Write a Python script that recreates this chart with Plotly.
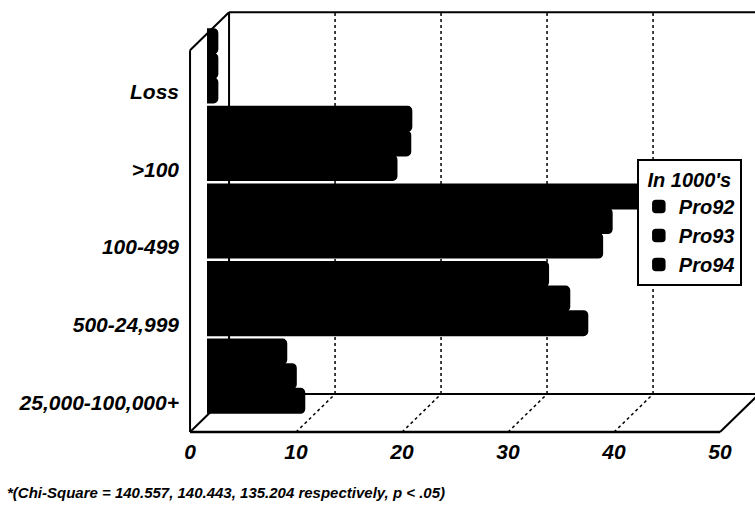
import plotly.graph_objects as go

# Income bands, listed bottom to top on the category axis
categories = ["25,000-100,000+", "500-24,999", "100-499", ">100", "Loss"]

pro92 = [9.2, 35.9, 37.3, 17.9, 1.0]
pro93 = [8.4, 34.2, 38.2, 19.2, 1.0]
pro94 = [7.5, 32.2, 41.3, 19.3, 1.0]

series_names = ["Pro92", "Pro93", "Pro94"]
x_ticks = [0, 10, 20, 30, 40, 50]

W, H = 755, 510
M = dict(l=207, r=18, t=27, b=95)
X_MAX = 50
FONT = dict(family="Liberation Sans, Arial, sans-serif", color="black",
            weight="bold", style="italic")

# Pseudo-3D box: front and back planes offset from the bar plane (axis units)
FRONT_DX, BACK_DX = -1.6, 2.08
FLOOR_FRONT, FLOOR_BACK = -0.72, -0.23
TOP_BACK, TOP_FRONT = 4.69, 4.2


def px(v):
    return v / X_MAX


def py(c):
    return (c + 0.5) / len(categories)


def seg(x0, y0, x1, y1, dash="solid", width=2):
    return dict(type="line", xref="paper", yref="paper",
                x0=px(x0), y0=py(y0), x1=px(x1), y1=py(y1),
                line=dict(color="black", width=width, dash=dash),
                layer="below")


fig = go.Figure()
for name, vals in zip(series_names, [pro92, pro93, pro94]):
    fig.add_trace(go.Bar(
        name=name, y=categories, x=vals, orientation="h",
        marker=dict(color="black", line=dict(color="black", width=1.5)),
        legendgroup=name,
    ))

shapes = [
    seg(BACK_DX, FLOOR_BACK, BACK_DX, TOP_BACK),
    seg(BACK_DX, TOP_BACK, X_MAX + BACK_DX + 2, TOP_BACK),
    seg(FRONT_DX, TOP_FRONT, BACK_DX, TOP_BACK),
    seg(FRONT_DX, FLOOR_FRONT, FRONT_DX, TOP_FRONT),
    seg(FRONT_DX, FLOOR_FRONT, BACK_DX, FLOOR_BACK),
    seg(FRONT_DX, FLOOR_FRONT, X_MAX + FRONT_DX, FLOOR_FRONT, width=2.5),
    seg(X_MAX + FRONT_DX, FLOOR_FRONT, X_MAX + BACK_DX, FLOOR_BACK),
    seg(BACK_DX, FLOOR_BACK, X_MAX + BACK_DX + 2, FLOOR_BACK),
]
for v in x_ticks[1:-1]:
    shapes.append(seg(v + BACK_DX, FLOOR_BACK, v + BACK_DX, TOP_BACK,
                      dash="dot", width=1.5))
    shapes.append(seg(v + FRONT_DX, FLOOR_FRONT, v + BACK_DX, FLOOR_BACK,
                      dash="dot", width=1.5))

fig.update_layout(
    width=W, height=H, margin=M,
    paper_bgcolor="white", plot_bgcolor="rgba(0,0,0,0)",
    barmode="group", bargap=0.05, bargroupgap=0, barcornerradius=4,
    font=FONT,
    xaxis=dict(range=[0, X_MAX], tickvals=x_ticks, showgrid=False,
               zeroline=False, showline=False, ticks="",
               tickfont=dict(size=21, **FONT),
               ticklabelshift=-17, ticklabelstandoff=22, fixedrange=True),
    yaxis=dict(type="category", categoryorder="array",
               categoryarray=categories, range=[-0.5, len(categories) - 0.5],
               showgrid=False, zeroline=False, showline=False, ticks="",
               tickfont=dict(size=21, **FONT),
               ticklabelshift=26, ticklabelstandoff=27, fixedrange=True),
    legend=dict(
        title=dict(text="In 1000's", side="top center",
                   font=dict(size=20, **FONT)),
        font=dict(size=20, **FONT),
        x=0.811, y=0.66, xanchor="left", yanchor="top",
        bgcolor="white", bordercolor="black", borderwidth=2,
        traceorder="normal", tracegroupgap=7,
    ),
    shapes=shapes,
    annotations=[dict(
        text="*(Chi-Square = 140.557, 140.443, 135.204 respectively, p < .05)",
        xref="paper", yref="paper", x=-0.381, y=-0.201,
        xanchor="left", yanchor="middle", showarrow=False,
        font=dict(size=15, **FONT),
    )],
)

fig.write_html("out.html")
